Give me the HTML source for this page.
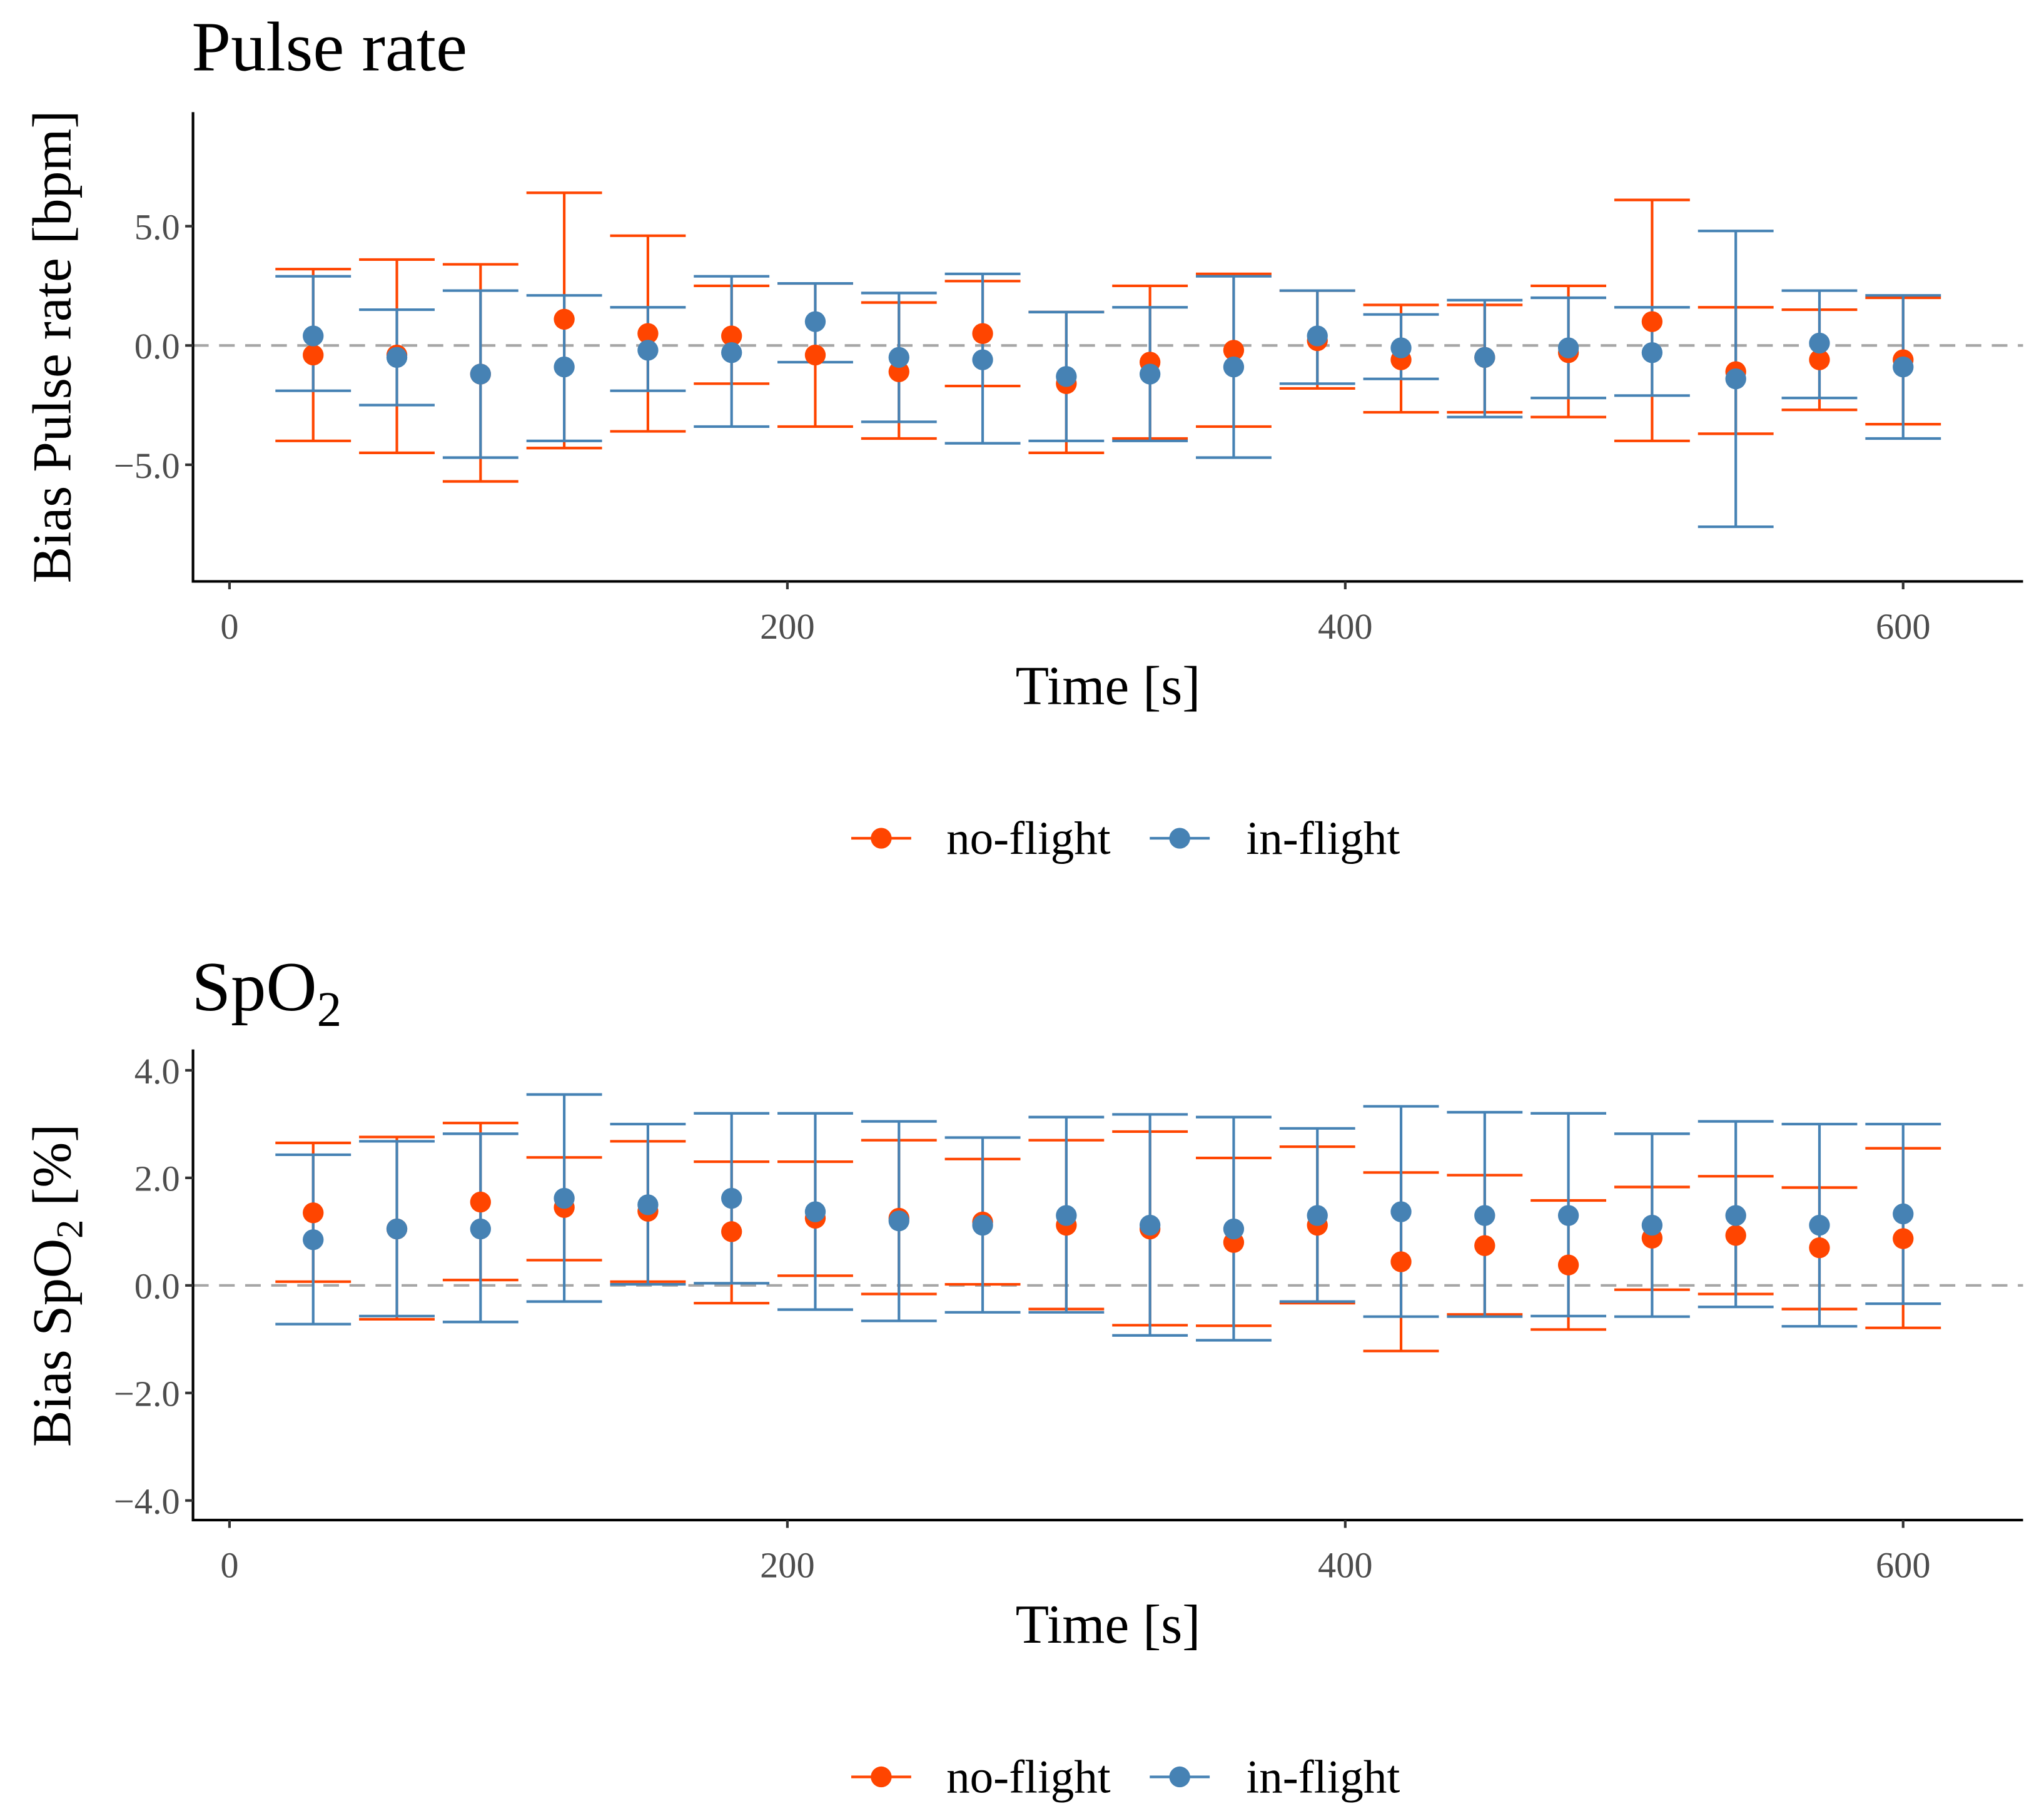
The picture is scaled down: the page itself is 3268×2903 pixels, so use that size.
<!DOCTYPE html>
<html><head><meta charset="utf-8">
<style>
html,body{margin:0;padding:0;background:#fff;}
svg{display:block;font-family:"Liberation Serif",serif;}
</style></head>
<body>
<svg id="chart" width="3268" height="2903" viewBox="0 0 1568 1393" xmlns="http://www.w3.org/2000/svg"></svg>
<script>
const times = [30,60,90,120,150,180,210,240,270,300,330,360,390,420,450,480,510,540,570,600];
const xTicks = [0,200,400,600];
// Pulse rate
const prNoMean = [-0.4,-0.4,-1.2,1.1,0.5,0.4,-0.4,-1.1,0.5,-1.6,-0.7,-0.2,0.2,-0.6,-0.5,-0.3,1.0,-1.1,-0.6,-0.6];
const prNoHi   = [3.2,3.6,3.4,6.4,4.6,2.5,2.6,1.8,2.7,1.4,2.5,3.0,2.3,1.7,1.7,2.5,6.1,1.6,1.5,2.0];
const prNoLo   = [-4.0,-4.5,-5.7,-4.3,-3.6,-1.6,-3.4,-3.9,-1.7,-4.5,-3.9,-3.4,-1.8,-2.8,-2.8,-3.0,-4.0,-3.7,-2.7,-3.3];
const prInMean = [0.4,-0.5,-1.2,-0.9,-0.2,-0.3,1.0,-0.5,-0.6,-1.3,-1.2,-0.9,0.4,-0.1,-0.5,-0.1,-0.3,-1.4,0.1,-0.9];
const prInHi   = [2.9,1.5,2.3,2.1,1.6,2.9,2.6,2.2,3.0,1.4,1.6,2.9,2.3,1.3,1.9,2.0,1.6,4.8,2.3,2.1];
const prInLo   = [-1.9,-2.5,-4.7,-4.0,-1.9,-3.4,-0.7,-3.2,-4.1,-4.0,-4.0,-4.7,-1.6,-1.4,-3.0,-2.2,-2.1,-7.6,-2.2,-3.9];
const prTicks  = [-5,0,5];
// SpO2
const spNoMean = [1.35,1.05,1.55,1.45,1.38,1.0,1.25,1.25,1.18,1.12,1.05,0.8,1.12,0.44,0.74,0.38,0.88,0.93,0.7,0.87];
const spNoHi   = [2.65,2.76,3.02,2.38,2.68,2.3,2.3,2.7,2.35,2.7,2.86,2.37,2.58,2.1,2.05,1.58,1.83,2.03,1.82,2.55];
const spNoLo   = [0.07,-0.63,0.1,0.47,0.07,-0.33,0.18,-0.16,0.02,-0.44,-0.74,-0.75,-0.33,-1.22,-0.54,-0.82,-0.08,-0.16,-0.44,-0.79];
const spInMean = [0.85,1.05,1.05,1.62,1.5,1.62,1.37,1.2,1.12,1.3,1.12,1.05,1.3,1.37,1.3,1.3,1.12,1.3,1.12,1.33];
const spInHi   = [2.43,2.68,2.82,3.55,3.0,3.2,3.2,3.05,2.75,3.13,3.18,3.13,2.92,3.33,3.22,3.2,2.82,3.05,3.0,3.0];
const spInLo   = [-0.72,-0.57,-0.68,-0.3,0.02,0.04,-0.45,-0.66,-0.5,-0.5,-0.93,-1.02,-0.3,-0.58,-0.58,-0.57,-0.58,-0.4,-0.76,-0.34];
const spTicks  = [-4,-2,0,2,4];

const NS = "http://www.w3.org/2000/svg";
const svg = document.getElementById('chart');
const ORANGE = "#FF4500", BLUE = "#4682B4";
function mk(tag, attrs, parent, text){
  const e = document.createElementNS(NS, tag);
  for (const k in attrs) e.setAttribute(k, attrs[k]);
  if (text !== undefined) e.textContent = text;
  (parent || svg).appendChild(e);
  return e;
}
const xS = t => 176 + t * (1460 - 176) / 600;

function panel(cfg){
  const g = mk('g', {});
  
  
  const yS = v => cfg.y0 - v * cfg.k;
  const tt = mk('text', {x:147, y:cfg.titleY, 'font-size':54, fill:'#000'}, g);
  
  
  tt.textContent = cfg.title;
  if (cfg.sub) { mk('tspan', {'font-size':38, dy:12}, tt, '2'); }
  const zl = mk('line', {x1:148, x2:1552, y1:yS(0), y2:yS(0), stroke:'#a6a6a6', 'stroke-width':2, 'stroke-dasharray':'12,8'}, g);
  
  
  const ax = mk('path', {d:`M148 ${cfg.top} V${cfg.bottom} H1552`, stroke:'#000', 'stroke-width':2, fill:'none'}, g);
  
  
  cfg.yTicks.forEach(v => {
    mk('line', {x1:142, x2:148, y1:yS(v), y2:yS(v), stroke:'#333', 'stroke-width':2}, g);
    const lb = mk('text', {x:138, y:yS(v)+10, 'text-anchor':'end', 'font-size':28, fill:'#4d4d4d'}, g, (v<0?'\u2212':'') + Math.abs(v).toFixed(1));
    
    
  });
  xTicks.forEach(v => {
    mk('line', {x1:xS(v), x2:xS(v), y1:cfg.bottom, y2:cfg.bottom+6, stroke:'#333', 'stroke-width':2}, g);
    const lb = mk('text', {x:xS(v), y:cfg.bottom+44, 'text-anchor':'middle', 'font-size':28, fill:'#4d4d4d'}, g, String(v));
    
    
  });
  const xt = mk('text', {x:850, y:cfg.bottom+94, 'text-anchor':'middle', 'font-size':42, fill:'#000'}, g, 'Time [s]');
  
  
  const yt = mk('text', {x:0, y:0, 'text-anchor':'middle', 'font-size':42, fill:'#000', transform:`translate(54 ${cfg.yTitleC}) rotate(-90)`}, g);
  
  
  if (cfg.sub) {
    mk('tspan', {}, yt, 'Bias SpO');
    mk('tspan', {'font-size':29, dy:9}, yt, '2');
    mk('tspan', {dy:-9}, yt, ' [%]');
  } else yt.textContent = cfg.yTitle;
  const series = [
    {name:'no-flight', color:ORANGE, m:cfg.noM, hi:cfg.noHi, lo:cfg.noLo},
    {name:'in-flight', color:BLUE, m:cfg.inM, hi:cfg.inHi, lo:cfg.inLo}
  ];
  series.forEach(s => {
    const sg = mk('g', {}, g);
    
    
    times.forEach((t, i) => {
      const x = xS(t), w = 29;
      const eb = mk('path', {d:`M${x-w} ${yS(s.hi[i])} H${x+w} M${x} ${yS(s.hi[i])} V${yS(s.lo[i])} M${x-w} ${yS(s.lo[i])} H${x+w}`, stroke:s.color, 'stroke-width':2, fill:'none'}, sg);
      
      
    });
  });
  series.forEach(s => {
    times.forEach((t, i) => {
      const p = mk('circle', {cx:xS(t), cy:yS(s.m[i]), r:8, fill:s.color}, g);
      
      
    });
  });
  const lg = mk('g', {}, g);
  
  
  const ly = cfg.legendY;
  [[ORANGE,'no-flight',653,726],[BLUE,'in-flight',882,956]].forEach(([c,lab,x0,tx]) => {
    const e = mk('g', {}, lg);
    
    
    mk('line', {x1:x0, x2:x0+46, y1:ly, y2:ly, stroke:c, 'stroke-width':2}, e);
    mk('circle', {cx:x0+23, cy:ly, r:8, fill:c}, e);
    mk('text', {x:tx, y:ly+12, 'font-size':36, fill:'#000'}, e, lab);
  });
}

panel({name:'pulse-rate-panel', title:'Pulse rate', titleY:54, yTitle:'Bias Pulse rate [bpm]',
  y0:265, k:18.3, top:86, bottom:446, yTitleC:266, yTicks:prTicks, legendY:643,
  noM:prNoMean, noHi:prNoHi, noLo:prNoLo, inM:prInMean, inHi:prInHi, inLo:prInLo});
panel({name:'spo2-panel', title:'SpO', sub:true, titleY:775, yTitle:'Bias SpO2 [%]',
  y0:986, k:41.25, top:805, bottom:1166, yTitleC:986, yTicks:spTicks, legendY:1363,
  noM:spNoMean, noHi:spNoHi, noLo:spNoLo, inM:spInMean, inHi:spInHi, inLo:spInLo});
</script>
</body></html>
